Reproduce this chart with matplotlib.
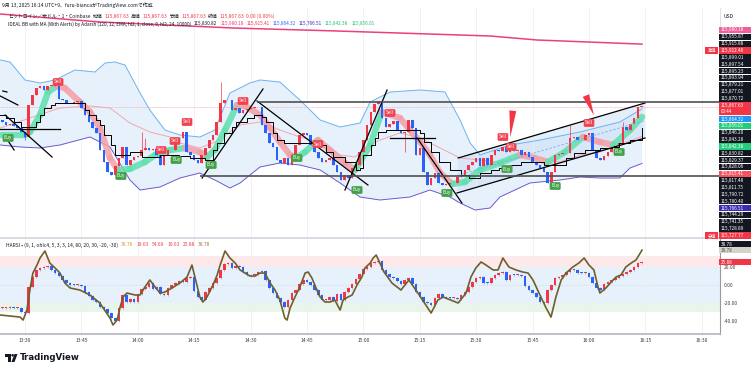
"""TradingView-style BTC/USD 1m chart with IDEAL BB ribbon and HARSI panel"""
import numpy as np
import matplotlib
matplotlib.use("Agg")
from matplotlib import pyplot as plt
from matplotlib.collections import LineCollection
from matplotlib.patches import Rectangle, Polygon, Circle
from matplotlib.transforms import IdentityTransform

plt.rcParams["font.family"] = ["Noto Sans CJK JP", "DejaVu Sans"]

# ---------------- data ----------------
# minutes counted from 13:30, one candle per minute
first_minute = -6
first_open = 115844.36
closes = [
    115840.78, 115835.41, 115837.20, 115833.62, 115830.04, 115822.88,  # -6..-1
    115813.93, 115871.21, 115889.11, 115901.64, 115905.22, 115898.06,  # 0..5
    115905.22, 115907.01, 115905.00, 115881.95, 115880.16, 115874.79,  # 6..11
    115874.60, 115876.58, 115878.37, 115865.84, 115853.31, 115840.78,  # 12..17
    115830.04, 115821.09, 115790.66, 115769.18, 115751.28, 115745.91,  # 18..23
    115762.02, 115776.34, 115796.03, 115763.81, 115772.76, 115778.13,  # 24..29
    115779.92, 115790.66, 115794.24, 115790.66, 115792.45, 115781.71,  # 30..35
    115763.81, 115781.71, 115790.66, 115790.40, 115803.19, 115812.14,  # 36..41
    115822.88, 115787.08, 115781.71, 115772.76, 115767.39, 115781.71,  # 42..47
    115794.24, 115808.56, 115817.51, 115840.78, 115874.79, 115880.16,  # 48..53
    115879.90, 115862.26, 115865.84, 115856.89, 115862.26, 115864.05,  # 54..59
    115865.84, 115867.63, 115867.40, 115835.41, 115821.09, 115803.19,  # 60..65
    115796.03, 115772.76, 115767.39, 115776.34, 115763.81, 115781.71,  # 66..71
    115799.61, 115817.51, 115821.09, 115817.51, 115799.61, 115787.08,  # 72..77
    115776.34, 115769.18, 115772.76, 115776.34, 115763.81, 115751.28,  # 78..83
    115736.96, 115745.91, 115740.54, 115758.44, 115763.81, 115787.08,  # 84..89
    115808.56, 115835.41, 115858.68, 115873.00, 115878.37, 115847.94,  # 90..95
    115831.83, 115837.20, 115842.57, 115826.46, 115821.09, 115822.88,  # 96..101
    115844.36, 115830.04, 115781.71, 115794.24, 115751.28, 115728.01,  # 102..107
    115740.54, 115749.49, 115731.59, 115728.01, 115729.80, 115731.59,  # 108..113
    115731.40, 115742.33, 115745.91, 115754.86, 115763.81, 115769.18,  # 114..119
    115776.34, 115762.02, 115776.34, 115763.81, 115781.71, 115790.66,  # 120..125
    115788.87, 115796.03, 115787.08, 115790.66, 115788.87, 115790.66,  # 126..131
    115781.71, 115787.08, 115778.13, 115769.18, 115763.81, 115758.44,  # 132..137
    115751.28, 115731.59, 115751.28, 115781.71, 115783.50, 115785.29,  # 138..143
    115785.10, 115812.14, 115813.93, 115808.56, 115808.40, 115817.51,  # 144..149
    115821.09, 115790.66, 115776.34, 115772.76, 115779.92, 115787.08,  # 150..155
    115794.24, 115797.82, 115803.19, 115831.83, 115826.46, 115837.20,  # 156..161
    115847.94, 115867.63, 115867.63,                                    # 162..164
]
wick_hi = {31: 115822.88, 32: 115812.14, 52: 115912.46, 145: 115835.41, 159: 115840.78}
wick_lo = {0: 115808.56, 101: 115787.08, 107: 115727.77}

# IDEAL BB bands
bb_up_t = [-6.6, -4.0, 0.0, 4.0, 8.0, 13.3, 18.6, 21.3, 23.9, 26.6, 30.6, 33.2, 37.2,
           41.2, 46.5, 50.5, 54.5, 59.8, 62.5, 67.8, 73.1, 78.5, 83.8, 89.1, 91.8,
           94.4, 97.1, 105.1, 111.7, 115.7, 118.4, 121.0, 129.0, 137.0, 147.6,
           152.9, 158.2, 164.1]
bb_up_p = [115951.76, 115948.18, 115915.96, 115910.59, 115915.96, 115933.86, 115930.28,
           115946.39, 115948.18, 115942.81, 115892.69, 115862.26, 115826.46, 115817.51,
           115813.93, 115826.46, 115892.69, 115910.59, 115915.96, 115912.38, 115880.16,
           115844.36, 115831.83, 115838.99, 115876.58, 115885.53, 115894.48, 115898.06,
           115894.48, 115844.36, 115803.19, 115781.71, 115799.61, 115808.56, 115822.88,
           115831.83, 115840.78, 115864.32]
bb_lo_t = [-6.6, -1.3, 4.0, 9.3, 17.3, 22.6, 27.9, 30.6, 35.9, 41.2, 46.5, 50.5, 54.5,
           57.2, 62.5, 67.8, 73.1, 78.5, 83.8, 89.1, 94.4, 102.4, 107.7, 113.0, 115.7,
           119.7, 123.7, 126.3, 134.3, 142.3, 147.6, 152.9, 158.2, 160.9, 164.1]
bb_lo_p = [115799.61, 115796.03, 115794.24, 115799.61, 115813.93, 115796.03, 115736.96,
           115719.06, 115724.43, 115740.54, 115749.49, 115736.96, 115722.64, 115731.59,
           115760.23, 115767.39, 115763.81, 115754.86, 115731.59, 115706.53, 115701.16,
           115706.53, 115719.06, 115706.53, 115695.79, 115683.26, 115686.84, 115706.53,
           115731.59, 115736.96, 115742.33, 115740.54, 115740.54, 115758.44, 115766.51]
basis_t = [-6.6, 1.3, 9.3, 17.3, 22.6, 27.9, 33.2, 38.6, 41.2, 46.5, 50.5, 57.2, 62.5,
           67.8, 73.1, 78.5, 83.8, 87.8, 91.8, 94.4, 99.7, 105.1, 110.4, 115.7, 121.0,
           126.3, 131.6, 137.0, 142.3, 147.6, 152.9, 158.2, 164.1]
basis_p = [115830.04, 115847.94, 115865.84, 115869.42, 115865.84, 115838.99, 115822.88,
           115813.93, 115803.19, 115794.24, 115804.98, 115835.41, 115840.78, 115826.46,
           115813.93, 115804.98, 115781.71, 115778.13, 115799.61, 115808.56, 115821.09,
           115812.14, 115794.24, 115776.34, 115772.76, 115769.18, 115778.13, 115776.34,
           115769.18, 115781.71, 115787.08, 115799.61, 115815.41]
ribbon_t = [-6.6, 0.0, 1.3, 4.0, 6.1, 8.5, 10.6, 14.6, 17.3, 19.9, 22.6, 24.7, 27.9,
            31.9, 34.6, 38.6, 42.6, 46.5, 48.4, 50.5, 53.2, 56.4, 58.5, 62.5, 65.2,
            67.8, 70.5, 72.1, 74.5, 77.9, 81.1, 85.1, 87.8, 91.8, 94.9, 99.7, 102.4,
            105.1, 107.7, 110.4, 113.6, 117.0, 121.0, 126.3, 131.6, 135.6, 139.1,
            143.6, 148.4, 152.9, 156.4, 160.9, 164.1]
ribbon_p = [115817.51, 115817.51, 115822.88, 115853.31, 115894.48, 115905.22, 115901.64,
            115876.58, 115858.68, 115830.04, 115776.34, 115754.86, 115756.65, 115769.18,
            115781.71, 115790.66, 115794.24, 115787.08, 115778.13, 115790.66, 115826.46,
            115871.21, 115869.42, 115853.31, 115830.04, 115804.98, 115781.71, 115776.34,
            115787.08, 115808.56, 115790.66, 115767.39, 115754.86, 115799.61, 115858.68,
            115847.94, 115826.46, 115804.98, 115781.71, 115749.49, 115729.80, 115733.38,
            115754.86, 115767.39, 115781.71, 115776.34, 115769.18, 115787.08, 115813.93,
            115804.98, 115799.61, 115826.46, 115849.73]
stop_t = [-7, -5, -3, -1, 1, 3, 4, 5, 7, 8, 15, 16, 17, 19, 20, 21, 23, 24, 28, 31, 36,
          41, 44, 48, 50, 51, 53, 55, 56, 59, 61, 63, 64, 66, 67, 69, 77, 80, 82, 85,
          88, 89, 90, 92, 93, 94, 96, 105, 106, 108, 110, 113, 116, 118, 121, 124, 126,
          129, 132, 138, 142, 144, 146, 149, 153, 156, 158, 161, 164]
stop_p = [115853.31, 115847.94, 115840.78, 115831.83, 115831.83, 115840.78, 115853.31,
          115865.84, 115871.21, 115874.79, 115874.79, 115862.26, 115853.31, 115844.36,
          115835.41, 115817.51, 115799.61, 115781.71, 115787.08, 115778.13, 115781.71,
          115779.92, 115776.34, 115772.76, 115790.66, 115803.19, 115821.09, 115831.83,
          115840.78, 115847.94, 115853.31, 115849.73, 115840.78, 115821.09, 115808.56,
          115803.19, 115799.61, 115787.08, 115778.13, 115769.18, 115754.86, 115758.44,
          115781.71, 115799.61, 115812.14, 115822.88, 115826.46, 115821.09, 115804.98,
          115787.08, 115769.18, 115754.86, 115745.91, 115740.54, 115749.49, 115754.86,
          115758.44, 115763.81, 115769.18, 115763.81, 115763.81, 115776.34, 115785.29,
          115790.66, 115794.24, 115796.03, 115803.19, 115808.56, 115830.82]
slow_t = [-6.6, 19.9, 55.3, 83.0, 123.7, 136.2, 164.1]
slow_p = [116034.10, 116019.78, 116009.04, 116003.67, 115994.72, 115987.56, 115980.18]

# user drawings
trend_lines = [
    ((-6.6, 115887.32), (-1.9, 115871.21)),
    ((-5.9, 115896.27), (-4.8, 115894.48)),
    ((-5.3, 115853.31), (7.2, 115778.13)),
    ((-4.3, 115804.98), (-2.9, 115790.66)),
    ((47.1, 115740.54), (63.3, 115899.85)),
    ((61.7, 115878.37), (91.2, 115728.01)),
    ((85.1, 115719.06), (96.3, 115898.06)),
    ((104.3, 115812.14), (116.2, 115695.79)),
    ((-6.6, 115828.25), (9.3, 115828.25)),
    ((97.1, 115812.14), (109.0, 115812.14)),
]
h_rays = [(61.7, 115877.01), (46.5, 115744.29)]
channel_up = ((115.2, 115776.34), (164.9, 115874.79))
channel_lo = ((114.9, 115713.69), (164.9, 115812.14))
channel_mid = ((115.0, 115745.00), (164.9, 115843.50))
red_arrows = [((129.8, 115865.84), (129.0, 115808.56)),
              ((148.9, 115892.69), (151.6, 115847.94))]
sell_signals = [(8.8, 115912.38), (36.2, 115790.66), (39.9, 115806.77), (43.1, 115840.78),
                (58.0, 115878.37), (77.9, 115801.40), (97.1, 115856.89), (127.1, 115813.93),
                (129.3, 115796.03), (150.0, 115838.99)]
buy_signals = [(-4.5, 115812.14), (25.5, 115744.12), (40.2, 115772.76), (49.5, 115763.81),
               (72.3, 115776.34), (88.3, 115719.06), (112.2, 115713.69), (128.2, 115756.65),
               (141.0, 115726.22), (158.0, 115787.08)]
last_price = 115867.63

# HARSI panel
ha_first_open = -25.6
ha_closes = [
    -25.6, -25.6, -24.4, -25.6, -25.4, -30.0,   # -6..-1
    -31.1, -2.2, 8.9, 16.7, 18.9, 20.0,         # 0..5
    20.6, 16.7, 13.3, 10.0, 5.6, 2.2,           # 6..11
    0.0, -0.3, 0.3, -1.1, -7.8, -12.2,          # 12..17
    -16.7, -18.9, -24.4, -26.7, -31.1, -36.7,   # 18..23
    -40.0, -25.6, -11.1, -18.9, -15.6, -18.9,   # 24..29
    -10.0, -4.4, -2.2, 2.2, -4.4, -2.2,         # 30..35
    -10.0, -11.1, -3.3, 0.0, 2.2, 4.4,          # 36..41
    3.3, 7.8, 8.9, -6.7, -13.3, -16.7,          # 42..47
    -7.8, -3.3, 2.2, 7.8, 16.7, 23.3,           # 48..53
    24.4, 18.9, 21.1, 20.0, 14.4, 11.1,         # 54..59
    10.6, 12.2, 14.4, 15.6, 5.6, -3.3,          # 60..65
    -8.9, -14.4, -18.9, -24.4, -16.7, -8.9,     # 66..71
    -5.6, 1.1, 5.6, 3.3, 0.0, -5.6,             # 72..77
    -11.1, -16.7, -16.5, -13.3, -17.8, -10.0,   # 78..83
    -16.7, -7.8, -3.3, 1.1, 6.7, 12.2,          # 84..89
    17.8, 20.0, 24.4, 25.6, 26.7, 16.7,         # 90..95
    12.2, 8.9, 7.8, 4.4, 1.1, 5.6,              # 96..101
    7.8, 1.1, -7.8, -13.3, -18.9, -20.0,        # 102..107
    -22.2, -14.4, -10.0, -13.3, -14.4, -14.5,   # 108..113
    -14.4, -15.6, -11.1, -7.8, -2.2, 3.3,       # 114..119
    7.8, 8.9, 2.2, 2.0, 7.8, 11.1,              # 120..125
    13.3, 14.4, 5.6, 11.1, 11.0, 11.1,          # 126..131
    10.0, -1.1, -5.6, -8.9, -13.3, -18.9,       # 132..137
    -20.0, -5.6, 0.0, 7.8, 8.9, 11.1,           # 138..143
    14.4, 16.7, 16.6, 13.3, 13.2, 13.3,         # 144..149
    8.9, 2.2, -3.3, -5.6, 1.1, 3.3,             # 150..155
    5.6, 7.8, 10.0, 12.2, 14.4, 16.7,           # 156..161
    20.0, 24.4, 25.88,                          # 162..164
]
rsi_t = [-6.6, -1.3, -0.5, 0.5, 1.3, 2.1, 3.2, 4.0, 5.3, 6.6, 8.0, 9.3, 10.6, 12.0, 14.6,
         17.3, 19.9, 22.6, 23.4, 24.5, 25.3, 26.1, 27.1, 29.3, 30.6, 31.9, 33.2, 34.6,
         35.9, 37.2, 39.1, 41.2, 43.1, 44.4, 46.5, 47.3, 48.4, 50.0, 51.1, 51.9, 53.2,
         54.5, 55.9, 57.2, 58.5, 59.8, 61.2, 62.5, 63.8, 65.2, 66.5, 67.8, 69.1, 69.7,
         70.5, 71.8, 73.1, 74.5, 75.3, 76.3, 77.4, 78.5, 79.8, 81.1, 82.4, 83.8, 84.6,
         85.9, 87.0, 88.3, 89.6, 90.4, 91.8, 92.6, 93.4, 95.5, 97.6, 100.0, 102.1, 104.5,
         108.0, 109.8, 111.2, 115.2, 117.3, 118.6, 119.9, 121.3, 122.6, 124.5, 125.8,
         127.1, 128.7, 130.6, 132.4, 133.8, 135.1, 136.7, 138.6, 139.9, 141.2, 142.6,
         143.9, 145.7, 147.3, 148.7, 150.0, 151.3, 152.4, 152.9, 154.5, 155.9, 157.2,
         158.5, 159.8, 161.2, 162.5, 164.1]
rsi_v = [-33.3, -35.6, -38.9, -27.8, -5.6, 13.3, 22.2, 30.0, 37.8, 24.4, 18.9, 13.3, 2.2,
         -3.3, -5.6, -11.1, -20.0, -36.7, -44.4, -38.9, -24.4, -13.3, -8.9, -11.1, -11.1,
         -2.2, 5.6, -2.2, -8.9, -7.8, -3.3, 2.2, 8.9, 22.2, -13.3, -18.9, -13.3, 0.0,
         11.1, 22.2, 37.8, 30.0, 24.4, 16.7, 13.3, 10.0, 10.0, 13.3, 13.3, 2.2, -5.6,
         -16.7, -36.7, -38.9, -25.6, -13.3, -2.2, 13.3, 14.4, 7.8, -3.3, -13.3, -18.9,
         -18.9, -16.7, -27.8, -16.7, -13.3, -11.1, 0.0, 8.9, 18.9, 24.4, 30.0, 33.3,
         14.4, 2.2, -5.6, 5.6, -8.9, -31.1, -16.7, -13.3, -20.0, -8.9, 8.9, 18.9, 25.6,
         22.2, 16.7, 16.7, 30.0, 20.0, 16.7, 14.4, 13.3, 5.6, -8.9, -25.6, -35.6, -13.3,
         5.6, 13.3, 20.0, 24.4, 30.0, 22.2, 16.7, -2.2, -8.9, -3.3, 3.3, 8.9, 11.1, 20.0,
         24.4, 27.8, 38.78]
ob_zone = (20, 32)
neutral_zone = (-20, 20)
os_zone = (-30, -20)
osc_ticks = [20, 0, -20, -40]

tick_minutes = [0, 15, 30, 45, 60, 75, 90, 105, 120, 135, 150, 165, 180]
time_labels = ["13:30", "13:45", "14:00", "14:15", "14:30", "14:45", "15:00",
               "15:15", "15:30", "15:45", "16:00", "16:15", "16:30"]

DARK = "#131722"
RED = "#f23645"
price_labels = [
    ("115,980.18", "#f0609a"), ("115,955.87", DARK), ("115,915.88", DARK),
    ("115,912.46", RED), ("115,899.01", DARK), ("115,897.54", DARK),
    ("115,895.23", DARK), ("115,893.94", DARK), ("115,879.21", DARK),
    ("115,877.01", DARK), ("115,870.72", DARK), ("115,867.63", RED),
    ("115,864.32", "#2196f3"), ("115,856.01", "#22cf78"), ("115,846.20", DARK),
    ("115,843.28", DARK), ("115,842.38", "#22cf78"), ("115,830.82", DARK),
    ("115,829.37", DARK), ("115,828.06", DARK), ("115,815.41", "#f5525e"),
    ("115,817.48", DARK), ("115,811.75", DARK), ("115,790.72", DARK),
    ("115,780.40", DARK), ("115,766.51", "#3b2bb2"), ("115,744.29", DARK),
    ("115,741.35", DARK), ("115,728.89", DARK), ("115,727.77", RED),
]
countdown = "00:44"
tags = {3: "高値", 29: "安値"}
osc_labels = [("38.78", DARK, "white"), ("38.78", "#d6d3c8", "#5d5640"), ("25.88", RED, "white")]

# ---------------- figure ----------------
W, H = 756, 371
fig = plt.figure(figsize=(W / 100, H / 100), dpi=100, facecolor="white")


def rect(x0, y0, x1, y1):
    return [x0 / W, 1 - y1 / H, (x1 - x0) / W, (y1 - y0) / H]


ax = fig.add_axes(rect(0, 8, 720, 238))
osc = fig.add_axes(rect(0, 239, 720, 334), sharex=ax)
ax.set_xlim(-6.65, 184.84)
ax.set_ylim(115633.14, 116044.84)
osc.set_ylim(-54.4, 51.1)

for a in (ax, osc):
    a.set_xticks(tick_minutes)
    a.grid(axis="x", color="#eef0f4", lw=0.6, zorder=0)
    a.spines["top"].set_visible(False)
    a.spines["left"].set_visible(False)
    a.tick_params(length=0)
ax.set_yticks([])
ax.tick_params(labelbottom=False)
ax.spines["right"].set_color("#e0e3eb")
ax.spines["bottom"].set_color("#d1d4dc")
ax.spines["bottom"].set_linewidth(1.2)
osc.spines["right"].set_color("#9598a1")
osc.spines["bottom"].set_color("#b2b5be")
osc.spines["bottom"].set_linewidth(1.2)
osc.set_xticklabels(time_labels, fontsize=3.6, color="#3c3f47")
osc.tick_params(axis="x", pad=2.6)
osc.yaxis.tick_right()
osc.set_yticks(osc_ticks)
osc.set_yticklabels([f"{v:.2f}" for v in osc_ticks], fontsize=3.5, color="#3c3f47")
osc.tick_params(axis="y", pad=3)

# --- main panel ---
ax.fill(np.r_[bb_up_t, bb_lo_t[::-1]], np.r_[bb_up_p, bb_lo_p[::-1]],
        color="#e6f1fc", lw=0, zorder=1)
ax.plot(bb_up_t, bb_up_p, color="#6cb2f0", lw=0.7, zorder=2)
ax.plot(bb_lo_t, bb_lo_p, color="#6a5acd", lw=0.7, zorder=2)
ax.plot(basis_t, basis_p, color="#f2a7ac", lw=0.7, zorder=2)
ax.plot(slow_t, slow_p, color="#ec407a", lw=1.1, zorder=2)
ax.axhline(last_price, color="#f7a8ae", lw=0.6, ls=(0, (1, 1)), zorder=2)

# channel
ax.fill([channel_up[0][0], channel_up[1][0], channel_lo[1][0], channel_lo[0][0]],
        [channel_up[0][1], channel_up[1][1], channel_lo[1][1], channel_lo[0][1]],
        color="#c9def5", alpha=0.5, lw=0, zorder=1.5)
for seg in (channel_up, channel_lo):
    ax.plot([seg[0][0], seg[1][0]], [seg[0][1], seg[1][1]], color="black", lw=0.9, zorder=5)
ax.plot([channel_mid[0][0], channel_mid[1][0]], [channel_mid[0][1], channel_mid[1][1]],
        color="#6cb2f0", lw=0.6, ls=(0, (3, 2)), zorder=5)

# ribbon
pts = np.column_stack([ribbon_t, ribbon_p])
segs = np.stack([pts[:-1], pts[1:]], axis=1)
rib_cols = ["#5fe0ac" if d >= 0 else "#f4a0a6" for d in np.diff(ribbon_p)]
ax.add_collection(LineCollection(segs, colors=rib_cols, linewidths=4.6,
                                 capstyle="round", alpha=0.85, zorder=2.5))

# candles
c = np.array(closes)
o = np.r_[first_open, c[:-1]]
t = np.arange(first_minute, first_minute + len(c))
hi = np.maximum(o, c)
lo = np.minimum(o, c)
for k, v in wick_hi.items():
    hi[k - first_minute] = v
for k, v in wick_lo.items():
    lo[k - first_minute] = v
cols = [RED if cc >= oo else "#2962ff" for oo, cc in zip(o, c)]
ax.vlines(t, lo, hi, colors=cols, lw=0.5, zorder=3)
ax.bar(t, np.maximum(np.abs(c - o), 0.9), bottom=np.minimum(o, c), width=0.68,
       color=cols, lw=0, zorder=3)

ax.step(stop_t, stop_p, where="post", color="black", lw=0.7, zorder=4)

for (t0, p0), (t1, p1) in trend_lines:
    ax.plot([t0, t1], [p0, p1], color="black", lw=0.9, zorder=5)
for t0, p in h_rays:
    ax.hlines(p, t0, ax.get_xlim()[1], color="#505050", lw=1.2, zorder=5)
for (t0, p0), (t1, p1) in red_arrows:
    ax.annotate("", xy=(t1, p1), xytext=(t0, p0),
                arrowprops=dict(arrowstyle="wedge,tail_width=0.5", color=RED, lw=0), zorder=6)

for tt, pp in sell_signals:
    ax.text(tt, pp, "Sell", fontsize=3.3, color="white", ha="center", va="center", zorder=7,
            bbox=dict(boxstyle="round,pad=0.3,rounding_size=0.3", fc="#f0434f", ec="none"))
for tt, pp in buy_signals:
    ax.text(tt, pp, "Buy", fontsize=3.3, color="white", ha="center", va="center", zorder=7,
            bbox=dict(boxstyle="round,pad=0.3,rounding_size=0.3", fc="#43a047", ec="none"))

# --- HARSI panel ---
osc.axhspan(*ob_zone, color="#fde8ea", lw=0, zorder=0.5)
osc.axhspan(*neutral_zone, color="#e6f1fb", lw=0, zorder=0.5)
osc.axhspan(*os_zone, color="#e9f5ea", lw=0, zorder=0.5)
osc.axhline(0, color="#d0d8e4", lw=0.5, ls=(0, (2, 2)), zorder=0.6)
hc = np.array(ha_closes)
ho = np.r_[ha_first_open, hc[:-1]]
ht = np.arange(first_minute, first_minute + len(hc))
hcols = [RED if cc >= oo else "#2962ff" for oo, cc in zip(ho, hc)]
osc.vlines(ht, np.minimum(ho, hc) - 1.2, np.maximum(ho, hc) + 1.2, colors="#8a8e99",
           lw=0.4, zorder=2)
osc.bar(ht, np.maximum(np.abs(hc - ho), 0.9), bottom=np.minimum(ho, hc), width=0.68,
        color=hcols, lw=0, zorder=3)
osc.plot(rsi_t, rsi_v, color="#6e5f2e", lw=1.2, zorder=4)

# --- overlay texts in pixel coordinates ---
renderer = fig.canvas.get_renderer()
PIX = IdentityTransform()


def text_row(x, y, parts, size, gap=3.0):
    for s, col in parts:
        tx = fig.text(x, H - y, s, color=col, fontsize=size, va="center", ha="left",
                      transform=PIX)
        x = tx.get_window_extent(renderer).x1 + gap


text_row(2, 5, [("9月 13, 2025 16:14 UTC+9、furu-biancaがTradingView.comで作成", DARK)], 3.6)
text_row(8, 16, [("ビットコイン／米ドル・1・Coinbase", DARK), ("始値", DARK), ("115,867.63", RED),
                 ("高値", DARK), ("115,867.63", RED), ("安値", DARK), ("115,867.63", RED),
                 ("終値", DARK), ("115,867.63", RED), ("0.00 (0.00%)", RED)], 3.5, gap=2.0)
text_row(8, 24, [("IDEAL BB with MA (With Alerts) by Adarsh (120, 12, EMA, hl2, 1, close, 0, hl2, 24, 10000)", DARK),
                 ("115,830.82", DARK), ("115,980.18", "#ec407a"), ("115,915.41", RED),
                 ("115,864.32", "#2962ff"), ("115,766.51", "#3b2bb2"),
                 ("115,842.38", "#22c470"), ("115,856.01", "#22c470")], 3.4)
text_row(6, 245, [("HARSI • (9, 1, ohlc4, 5, 3, 3, 14, 80, 20, 30, -20, -30)", DARK),
                  ("38.78", "#c9a227"), ("19.63", RED), ("54.69", RED), ("19.63", RED),
                  ("25.88", RED), ("38.78", "#8d7b3a")], 3.5)

fig.text(723, H - 17, "USD", fontsize=3.6, color=DARK, va="center", transform=PIX)
y = 30.0
for i, (s, col) in enumerate(price_labels):
    tall = s == "115,867.63"
    h = 13.2 if tall else 6.4
    fig.add_artist(Rectangle((719, H - (y - 3.2) - h), 32, h, transform=PIX,
                             fc=col, ec="none"))
    fig.text(721, H - y, s, fontsize=3.4, color="white", va="center", transform=PIX)
    if tall:
        fig.text(721, H - y - 6.6, countdown, fontsize=3.2, color="white", va="center",
                 transform=PIX)
    if i in tags:
        fig.add_artist(Rectangle((705, H - y - 3.2), 13, 6.4, transform=PIX, fc=RED, ec="none"))
        fig.text(711.5, H - y, tags[i], fontsize=3.0, color="white", va="center",
                 ha="center", transform=PIX)
    y += 13.7 if tall else 6.85

for (s, bg, fg), yy in zip(osc_labels, (244, 250, 262)):
    fig.add_artist(Rectangle((719, H - yy - 2.8), 32, 5.6, transform=PIX, fc=bg, ec="none"))
    fig.text(721, H - yy, s, fontsize=3.4, color=fg, va="center", transform=PIX)

# TradingView logo
fig.add_artist(Polygon([(5, H - 354), (11, H - 354), (11, H - 362), (8, H - 362),
                        (8, H - 356.5), (5, H - 356.5)], closed=True, transform=PIX,
                       fc=DARK, ec="none"))
fig.add_artist(Circle((12.6, H - 355.3), 1.3, transform=PIX, fc=DARK, ec="none"))
fig.add_artist(Polygon([(14.5, H - 354), (17.5, H - 354), (14.5, H - 362), (11.5, H - 362)],
                       closed=True, transform=PIX, fc=DARK, ec="none"))
fig.text(20, H - 358, "TradingView", fontsize=6.2, fontweight="bold", color=DARK,
         va="center", family=["DejaVu Sans"], transform=PIX)

fig.savefig("out.png", dpi=100, facecolor="white")
